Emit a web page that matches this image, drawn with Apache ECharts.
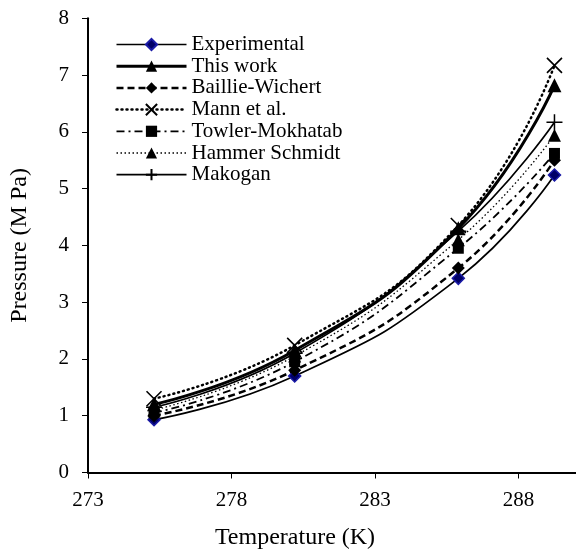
<!DOCTYPE html>
<html>
<head>
<meta charset="utf-8">
<script src="https://cdn.jsdelivr.net/npm/echarts@6/dist/echarts.min.js"></script>
<style>
html,body{margin:0;padding:0;background:#fff;}
#c{width:576px;height:555px;}
</style>
</head>
<body>
<div id="c"></div>
<script>
// Data
const temperatures = [275.3, 280.2, 285.9, 289.25];
const experimental = [0.93, 1.70, 3.42, 5.24];
const thisWork     = [1.20, 2.15, 4.30, 6.82];
const baillie      = [1.00, 1.80, 3.60, 5.50];
const mann         = [1.30, 2.24, 4.35, 7.17];
const towler       = [1.05, 1.95, 3.95, 5.62];
const hammer       = [1.10, 2.05, 4.10, 5.94];
const makogan      = [1.15, 2.10, 4.25, 6.17];
const xTicks = [273, 278, 283, 288];
const seriesNames = ['Experimental','This work','Baillie-Wichert','Mann et al.','Towler-Mokhatab','Hammer Schmidt','Makogan'];

const FONT = '"Liberation Serif", "Times New Roman", serif';
const pairs = arr => temperatures.map((t, i) => [t, arr[i]]);
const X_PATH = 'path://M0,0L20,20M20,0L0,20';
const PLUS_PATH = 'path://M10,0L10,20M0,10L20,10';

const styles = {
  'Experimental':    {symbol: 'diamond', size: 12, line: {color: '#000', width: 1.7, type: 'solid'},
                      item: {color: '#000066', borderColor: '#1a1aa6', borderWidth: 1.5}},
  'This work':       {symbol: 'triangle', size: 14, line: {color: '#000', width: 3, type: 'solid'},
                      item: {color: '#000', borderWidth: 0}},
  'Baillie-Wichert': {symbol: 'diamond', size: 13, line: {color: '#000', width: 2.5, type: [7, 4]},
                      item: {color: '#000', borderWidth: 0}},
  'Mann et al.':     {symbol: X_PATH, size: 15, line: {color: '#000', width: 2.5, type: [1, 4], cap: 'round'},
                      item: {color: 'rgba(0,0,0,0)', borderColor: '#000', borderWidth: 1.6}},
  'Towler-Mokhatab': {symbol: 'rect', size: 11, line: {color: '#000', width: 1.8, type: [8, 4, 2, 4]},
                      item: {color: '#000', borderWidth: 0}},
  'Hammer Schmidt':  {symbol: 'triangle', size: 13, line: {color: '#000', width: 1.3, type: [1.5, 2.5]},
                      item: {color: '#000', borderWidth: 0}},
  'Makogan':         {symbol: PLUS_PATH, size: 16, line: {color: '#000', width: 1.7, type: 'solid'},
                      item: {color: 'rgba(0,0,0,0)', borderColor: '#000', borderWidth: 1.5}}
};
const values = {
  'Experimental': experimental, 'This work': thisWork, 'Baillie-Wichert': baillie,
  'Mann et al.': mann, 'Towler-Mokhatab': towler, 'Hammer Schmidt': hammer, 'Makogan': makogan
};
// draw order (later on top)
const drawOrder = ['Experimental','Baillie-Wichert','Towler-Mokhatab','Hammer Schmidt','Makogan','This work','Mann et al.'];

const chart = echarts.init(document.getElementById('c'), null, {renderer: 'canvas'});
chart.setOption({
  animation: false,
  backgroundColor: '#fff',
  grid: {left: 82, top: 18.3, width: 496, height: 454.2, containLabel: false},
  legend: {
    orient: 'vertical', left: 110, top: 29,
    itemWidth: 70, itemHeight: 14, itemGap: 0.7,
    textStyle: {fontFamily: FONT, fontSize: 21, color: '#000', lineHeight: 20},
    data: seriesNames.map(n => ({name: n, lineStyle: Object.assign({}, styles[n].line)}))
  },
  xAxis: {
    type: 'value', min: 273, max: 290,
    axisLine: {show: true, lineStyle: {color: '#000', width: 2}},
    axisTick: {show: true, length: 6, customValues: xTicks, lineStyle: {color: '#000', width: 1}},
    axisLabel: {customValues: xTicks, margin: 17, fontFamily: FONT, fontSize: 21, color: '#000'},
    splitLine: {show: false}
  },
  yAxis: {
    type: 'value', min: 0, max: 8, interval: 1,
    name: 'Pressure (M Pa)', nameLocation: 'middle', nameGap: 56, nameRotate: 90,
    nameTextStyle: {fontFamily: FONT, fontSize: 24, color: '#000'},
    axisLine: {show: true, lineStyle: {color: '#000', width: 2}},
    axisTick: {show: true, length: 6, lineStyle: {color: '#000', width: 1}},
    axisLabel: {margin: 19, fontFamily: FONT, fontSize: 21, color: '#000'},
    splitLine: {show: false}
  },
  graphic: [{
    type: 'text', x: 295, y: 538,
    style: {text: 'Temperature (K)', font: '24px ' + FONT, fill: '#000', textAlign: 'center', textVerticalAlign: 'middle'}
  }],
  series: drawOrder.map(n => ({
    name: n, type: 'line', smooth: true, data: pairs(values[n]),
    symbol: styles[n].symbol, symbolSize: styles[n].size,
    lineStyle: styles[n].line, itemStyle: styles[n].item
  }))
});
</script>
</body>
</html>
